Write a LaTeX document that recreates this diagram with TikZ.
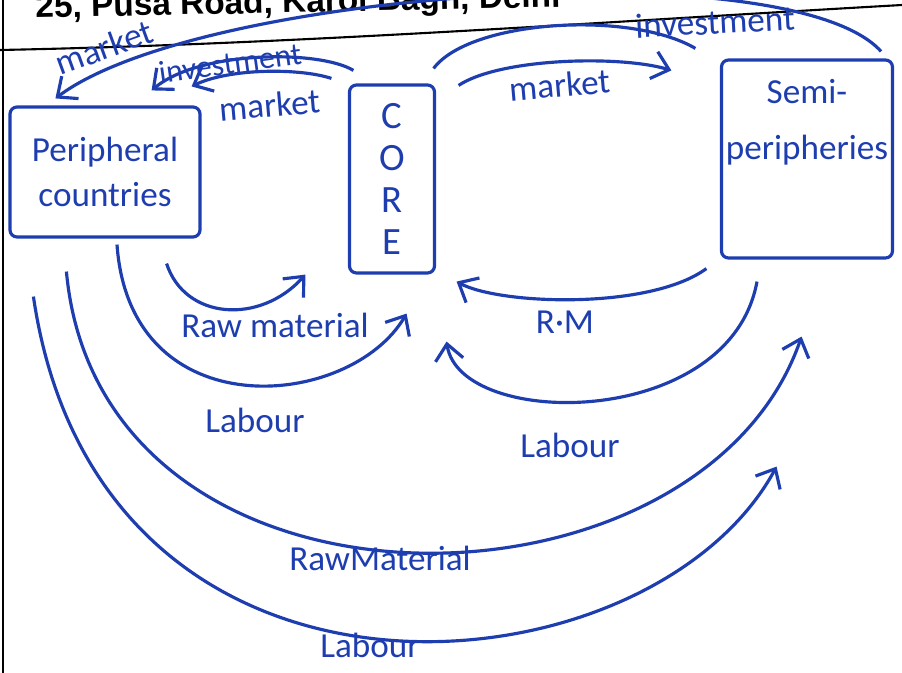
\documentclass[tikz,border=0pt]{standalone}
\usepackage{fontspec}
\setmainfont{Carlito}
\newfontfamily\headfont{Liberation Sans}
\usetikzlibrary{arrows.meta}
\definecolor{ink}{RGB}{30,62,176}

\begin{document}
\begin{tikzpicture}[
  region/.style={draw=ink, line width=0.9pt, rounded corners=2pt, text=ink, align=center},
  flow/.style={draw=ink, line width=0.9pt, -{Straight Barb[length=1.6mm,width=2.8mm]}},
  plain/.style={draw=ink, line width=0.9pt},
  lbl/.style={text=ink, font=\fontsize{10}{12}\selectfont, inner sep=1pt},
]

  % Page
  \useasboundingbox (0,0) rectangle (9.02,-6.73);
  \clip (0,0) rectangle (9.02,-6.73);
  \fill[white] (0,0) rectangle (9.02,-6.73);
  \node[anchor=base west, rotate=1.2, inner sep=0pt,
        font=\headfont\bfseries\fontsize{9.5}{11}\selectfont] (head) at (0.35,-0.18)
        {25, Pusa Road, Karol Bagh, Delhi};
  \coordinate (ruleL) at (0,-0.5);
  \coordinate (ruleR) at (9.02,-0.05);
  \draw[line width=0.6pt] (ruleL) .. controls (3,-0.44) and (6,-0.22) .. (ruleR);
  \draw[line width=0.6pt] (0.03,0) -- (0.03,-6.73);

  % Boxes
  \node[region, minimum width=1.9cm, minimum height=1.3cm,
        font=\fontsize{10}{13}\selectfont] (periph) at (1.05,-1.72) {Peripheral\\countries};
  \node[region, minimum width=0.85cm, minimum height=1.88cm,
        font=\fontsize{11}{12}\selectfont] (core) at (3.92,-1.79) {C\\O\\R\\E};
  \node[region, minimum width=1.71cm, minimum height=1.98cm] (semi) at (8.07,-1.59) {};
  \node[text=ink, align=center, anchor=north, inner sep=0pt,
        font=\fontsize{10}{16}\selectfont] (semitxt) at ([yshift=-0.2cm]semi.north) {Semi-\\peripheries};

  % Top flows
  \draw[flow] ([xshift=-0.13cm,yshift=0.07cm]semi.north east)
    .. controls (7.9,0.5) and (2.0,0.1) .. ([xshift=0.47cm,yshift=0.07cm]periph.north west);
  \draw[plain] ([xshift=-0.025cm,yshift=0.15cm]core.north east)
    .. controls (4.7,-0.2) and (6.3,-0.1) .. ([xshift=-0.245cm,yshift=0.1cm]semi.north west);
  \draw[flow] ([xshift=0.225cm,yshift=-0.02cm]core.north east)
    .. controls (5.0,-0.58) and (6.2,-0.55) .. ([xshift=-0.485cm,yshift=-0.12cm]semi.north west);
  \draw[flow] ([xshift=0.055cm,yshift=0.13cm]core.north west)
    .. controls (3.2,-0.5) and (2.0,-0.5) .. ([xshift=-0.5cm,yshift=0.15cm]periph.north east);
  \draw[flow] ([xshift=-0.165cm,yshift=0.05cm]core.north west)
    .. controls (3.0,-0.68) and (2.3,-0.68) .. ([xshift=-0.1cm,yshift=0.19cm]periph.north east);

  % Bottom flows
  \draw[flow] ([xshift=-0.35cm,yshift=-0.25cm]periph.south east)
    .. controls (1.85,-3.2) and (2.6,-3.25) .. ([xshift=-0.425cm]core.south west);
  \draw[flow] ([xshift=0.12cm,yshift=-0.06cm]periph.south)
    .. controls (1.3,-4.3) and (3.5,-4.1) .. ([xshift=-0.295cm,yshift=-0.39cm]core.south east);
  \draw[flow] ([xshift=-0.135cm,yshift=-0.09cm]semi.south west)
    .. controls (6.5,-3.1) and (5.0,-3.05) .. ([xshift=0.205cm,yshift=-0.07cm]core.south east);
  \draw[flow] ([xshift=-0.5cm,yshift=-0.22cm]semi.south)
    .. controls (7.3,-4.3) and (4.6,-4.3) .. ([xshift=0.105cm,yshift=-0.67cm]core.south east);
  \draw[flow] ([xshift=0.58cm,yshift=-0.33cm]periph.south west)
    .. controls (1.0,-6.4) and (7.0,-6.3) .. ([xshift=-0.925cm,yshift=-0.77cm]semi.south east);
  \draw[flow] ([xshift=0.25cm,yshift=-0.58cm]periph.south west)
    .. controls (1.0,-7.5) and (6.5,-7.0) .. ([xshift=-1.175cm,yshift=-2.07cm]semi.south east);

  % Labels
  \node[lbl, rotate=20] (mkOuter)  at (1.04,-0.47) {market};
  \node[lbl, rotate=8, font=\fontsize{9}{11}\selectfont] (invLeft) at (2.30,-0.63) {investment};
  \node[lbl, rotate=5]  (mkLeft)   at (2.70,-1.05) {market};
  \node[lbl, rotate=3]  (invRight) at (7.15,-0.22) {investment};
  \node[lbl, rotate=5]  (mkRight)  at (5.60,-0.85) {market};
  \node[lbl] (rmLeft)   at (2.75,-3.25) {Raw material};
  \node[lbl] (labLeft)  at (2.55,-4.20) {Labour};
  \node[lbl] (rmRight)  at (5.65,-3.22) {R·M};
  \node[lbl] (labRight) at (5.70,-4.45) {Labour};
  \node[lbl] (rmOuter)  at (3.80,-5.58) {RawMaterial};
  \node[lbl] (labOuter) at (3.70,-6.45) {Labour};

\end{tikzpicture}
\end{document}
